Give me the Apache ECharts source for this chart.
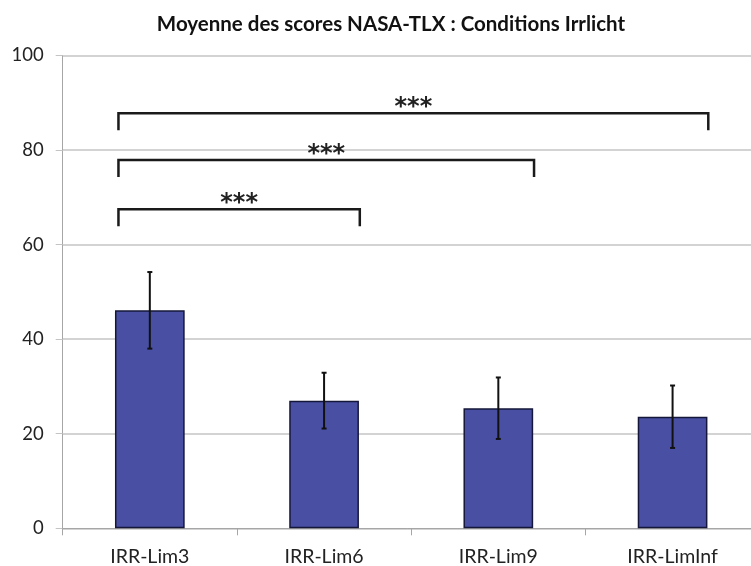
<!DOCTYPE html>
<html>
<head>
<meta charset="utf-8">
<script src="https://cdn.jsdelivr.net/npm/echarts@6/dist/echarts.min.js"></script>
<style>
  html, body { margin: 0; padding: 0; background: #fff; }
  #chart { width: 751px; height: 566px; }
</style>
</head>
<body>
<div id="chart"></div>
<script>
// Conditions Irrlicht: mean NASA-TLX score with error bars
const categories = ['IRR-Lim3', 'IRR-Lim6', 'IRR-Lim9', 'IRR-LimInf'];
const means = [46.1, 27.0, 25.4, 23.6];
const errors = [8.1, 5.9, 6.5, 6.6];
const yTicks = [0, 20, 40, 60, 80, 100];

// Significance brackets: [from category, to category, bracket level, leg end]
const brackets = [
  [0, 1, 67.5, 63.9],
  [0, 2, 77.9, 74.3],
  [0, 3, 87.8, 84.2]
];
const bracketLabels = ['***', '***', '***'];

const FONT = 'Lato';
const chart = echarts.init(document.getElementById('chart'));

const errorData = means.map((m, i) => [i, m - errors[i], m + errors[i]]);

chart.setOption({
  animation: false,
  backgroundColor: '#ffffff',
  title: {
    text: 'Moyenne des scores NASA-TLX : Conditions Irrlicht',
    left: 386,
    textAlign: 'center',
    top: 9,
    textStyle: { fontFamily: FONT, fontWeight: 'bold', fontSize: 20.5, color: '#111' }
  },
  // the plot runs a little past the right edge of the canvas
  grid: { left: 62.7, width: 697, top: 55.5, bottom: 37.7, outerBoundsMode: 'none' },
  xAxis: {
    type: 'category',
    data: categories,
    axisLine: { lineStyle: { color: '#a6a6a6', width: 1 } },
    axisTick: { show: true, length: 7, lineStyle: { color: '#a6a6a6' } },
    axisLabel: { fontFamily: FONT, fontSize: 19.5, color: '#222', margin: 18 }
  },
  yAxis: {
    type: 'value',
    min: yTicks[0],
    max: yTicks[yTicks.length - 1],
    interval: 20,
    axisLine: { show: true, lineStyle: { color: '#a6a6a6', width: 1 } },
    axisTick: { show: true, length: 7, lineStyle: { color: '#c4c4c4' } },
    splitLine: { lineStyle: { color: '#c4c4c4', width: 1.5 } },
    axisLabel: { fontFamily: FONT, fontSize: 18.5, color: '#222', margin: 19 }
  },
  series: [
    {
      type: 'bar',
      data: means,
      barWidth: '40%',
      itemStyle: { color: '#4950a3', borderColor: '#15173a', borderWidth: 1.5 }
    },
    {
      type: 'custom',
      data: errorData,
      encode: { x: 0, y: [1, 2] },
      z: 5,
      renderItem: function (params, api) {
        const lo = api.coord([api.value(0), api.value(1)]);
        const hi = api.coord([api.value(0), api.value(2)]);
        const cap = 2.5;
        const style = { stroke: '#111', lineWidth: 2 };
        return {
          type: 'group',
          children: [
            { type: 'line', shape: { x1: hi[0], y1: hi[1], x2: lo[0], y2: lo[1] }, style: style },
            { type: 'line', shape: { x1: hi[0] - cap, y1: hi[1], x2: hi[0] + cap, y2: hi[1] }, style: style },
            { type: 'line', shape: { x1: lo[0] - cap, y1: lo[1], x2: lo[0] + cap, y2: lo[1] }, style: style }
          ]
        };
      }
    },
    {
      type: 'custom',
      data: brackets,
      encode: { x: [0, 1], y: [2, 3] },
      z: 6,
      renderItem: function (params, api) {
        const band = api.size([1, 0])[0];
        const a = api.coord([api.value(0), api.value(2)]);
        const b = api.coord([api.value(1), api.value(2)]);
        const d = api.coord([api.value(0), api.value(3)]);
        const xL = a[0] - 0.18 * band;
        const xR = b[0] + 0.205 * band;
        const yTop = a[1];
        const yLeg = d[1];
        return {
          type: 'group',
          children: [
            {
              type: 'polyline',
              shape: { points: [[xL, yLeg], [xL, yTop], [xR, yTop], [xR, yLeg]] },
              style: { stroke: '#1a1a1a', lineWidth: 2.5, fill: null }
            },
            {
              type: 'text',
              x: (xL + xR) / 2,
              y: yTop - 5,
              style: {
                text: bracketLabels[params.dataIndex],
                fontFamily: 'DejaVu Sans',
                fontWeight: 'bold',
                fontSize: 24,
                fill: '#222',
                align: 'center',
                verticalAlign: 'middle'
              }
            }
          ]
        };
      }
    }
  ]
});
</script>
</body>
</html>
